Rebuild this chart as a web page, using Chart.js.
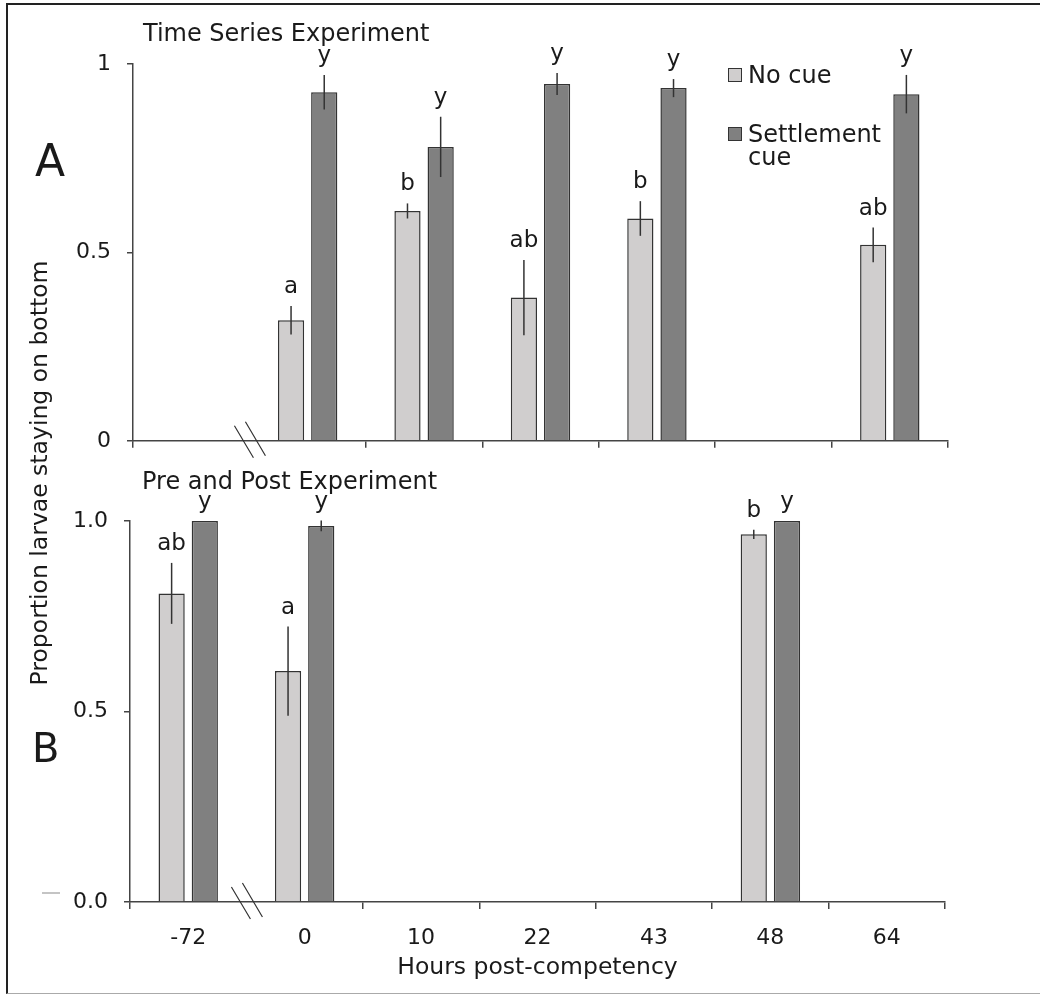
<!DOCTYPE html>
<html>
<head>
<meta charset="utf-8">
<script src="https://cdn.jsdelivr.net/npm/chart.js@4.4.0/dist/chart.umd.min.js"></script>
<style>
body { margin: 0; background: #fff; font-family: "DejaVu Sans", sans-serif; color: #1a1a1a; }
#wrap { position: relative; width: 1040px; height: 994px; overflow: hidden; }
#frame { position: absolute; left: 6px; top: 3px; width: 1034px; height: 988px;
  border-top: 2px solid #222; border-left: 2px solid #222; border-bottom: 1px solid #aaa; }
canvas { position: absolute; left: 0; }
.lbl { position: absolute; white-space: nowrap; }
.sw { position: absolute; width: 12px; height: 12px; border: 1px solid #333; }
</style>
</head>
<body>
<div id="wrap">
  <div id="frame"></div>
  <canvas id="chartA" width="1040" height="470" style="top:0"></canvas>
  <canvas id="chartB" width="1040" height="524" style="top:470px"></canvas>

  <div class="lbl" style="left:143px;top:21px;font-size:24px;line-height:24px">Time Series Experiment</div>
  <div class="lbl" style="left:142px;top:469px;font-size:24px;line-height:24px">Pre and Post Experiment</div>
  <div class="lbl" style="left:35px;top:139px;font-size:44px;line-height:44px">A</div>
  <div class="lbl" style="left:32px;top:728px;font-size:40px;line-height:40px">B</div>
  <div class="lbl" style="left:39px;top:473px;font-size:23.5px;line-height:24px;transform:translate(-50%,-50%) rotate(-90deg)">Proportion larvae staying on bottom</div>

  <div class="sw" style="left:728px;top:68px;background:#d0cece"></div>
  <div class="lbl" style="left:748px;top:63px;font-size:24px;line-height:24px">No cue</div>
  <div class="sw" style="left:728px;top:127px;background:#808080"></div>
  <div class="lbl" style="left:748px;top:122px;font-size:24px;line-height:24px">Settlement</div>
  <div class="lbl" style="left:748px;top:145px;font-size:24px;line-height:24px">cue</div>

  <div style="position:absolute;left:42px;top:892px;width:18px;height:2px;background:#c4c4c4"></div>
</div>
<script>
const categories = ['-72', '0', '10', '22', '43', '48', '64'];

// Panel A - time series experiment
const noCueA = [null, 0.32, 0.61, 0.38, 0.59, null, 0.52];
const noCueErrA = [null, 0.038, 0.02, 0.10, 0.046, null, 0.046];
const noCueLetA = ['', 'a', 'b', 'ab', 'b', '', 'ab'];
const cueA = [null, 0.925, 0.78, 0.947, 0.936, null, 0.92];
const cueErrA = [null, 0.046, 0.08, 0.029, 0.024, null, 0.051];
const cueLetA = ['', 'y', 'y', 'y', 'y', '', 'y'];

// Panel B - pre and post experiment
const noCueB = [0.81, 0.606, null, null, null, 0.965, null];
const noCueErrB = [0.08, 0.117, null, null, null, 0.012, null];
const noCueLetB = ['ab', 'a', '', '', '', 'b', ''];
const cueB = [1.0, 0.987, null, null, null, 1.0, null];
const cueErrB = [0, 0.014, null, null, null, 0, null];
const cueLetB = ['y', 'y', '', '', '', 'y', ''];

const FONT = 'DejaVu Sans';
const INK = '#1a1a1a';
const AXIS = '#444';

// error bars, significance letters and the axis break mark
const annotate = {
    id: 'annotate',
    afterDatasetsDraw(chart) {
        const ctx = chart.ctx;
        const ys = chart.scales.y;
        const xs = chart.scales.x;
        ctx.save();
        chart.data.datasets.forEach((ds, di) => {
            const meta = chart.getDatasetMeta(di);
            ds.data.forEach((v, i) => {
                if (v == null) return;
                const bx = meta.data[i].x;
                const e = ds.errors[i] || 0;
                const top = ys.getPixelForValue(v + e);
                if (e > 0) {
                    ctx.strokeStyle = '#333';
                    ctx.lineWidth = 1.5;
                    ctx.beginPath();
                    ctx.moveTo(bx, top);
                    ctx.lineTo(bx, ys.getPixelForValue(v - e));
                    ctx.stroke();
                }
                ctx.fillStyle = INK;
                ctx.font = '23px "' + FONT + '"';
                ctx.textAlign = 'center';
                ctx.textBaseline = 'alphabetic';
                ctx.fillText(ds.letters[i], bx, top - 13);
            });
        });
        const gx = (xs.getPixelForValue(0) + xs.getPixelForValue(1)) / 2;
        const gy = ys.getPixelForValue(0);
        ctx.strokeStyle = '#333';
        ctx.lineWidth = 1.2;
        ctx.beginPath();
        ctx.moveTo(gx - 15, gy - 15); ctx.lineTo(gx + 4, gy + 17);
        ctx.moveTo(gx - 4, gy - 19); ctx.lineTo(gx + 16, gy + 15);
        ctx.stroke();
        ctx.restore();
    }
};

function makeChart(id, noCue, noCueErr, noCueLet, cue, cueErr, cueLet, cfg) {
    const ctx = document.getElementById(id).getContext('2d');
    return new Chart(ctx, {
        type: 'bar',
        data: {
            labels: categories,
            datasets: [{
                label: 'No cue',
                data: noCue,
                errors: noCueErr,
                letters: noCueLet,
                backgroundColor: '#d0cece',
                borderColor: '#333',
                borderWidth: 1.5,
                categoryPercentage: 0.57,
                barPercentage: 0.79
            }, {
                label: 'Settlement cue',
                data: cue,
                errors: cueErr,
                letters: cueLet,
                backgroundColor: '#808080',
                borderColor: '#333',
                borderWidth: 1.5,
                categoryPercentage: 0.57,
                barPercentage: 0.79
            }]
        },
        options: {
            responsive: false,
            animation: false,
            devicePixelRatio: 1,
            layout: { padding: { left: 0, right: cfg.right, top: cfg.top, bottom: 0 } },
            plugins: { legend: { display: false }, title: { display: false }, tooltip: { enabled: false } },
            scales: {
                x: {
                    grid: {
                        offset: true,
                        drawOnChartArea: false,
                        tickLength: 7,
                        lineWidth: 1.5,
                        color: (c) => c.index === 1 ? 'rgba(0,0,0,0)' : AXIS
                    },
                    border: { color: AXIS, width: 1.5 },
                    ticks: {
                        display: cfg.xLabels,
                        color: INK,
                        padding: 16,
                        font: { family: FONT, size: 22 }
                    },
                    title: {
                        display: cfg.xLabels,
                        text: 'Hours post-competency',
                        color: INK,
                        padding: { top: 0, bottom: 12 },
                        font: { family: FONT, size: 23.5 }
                    },
                    afterFit: (s) => { s.height = cfg.xHeight; }
                },
                y: {
                    min: 0,
                    max: 1,
                    grid: { drawOnChartArea: false, tickLength: 6, lineWidth: 1.5, color: AXIS },
                    border: { color: AXIS, width: 1.5 },
                    ticks: {
                        stepSize: 0.5,
                        color: INK,
                        padding: 16,
                        font: { family: FONT, size: 22 },
                        callback: cfg.yFmt
                    },
                    afterFit: (s) => { s.width = cfg.left; }
                }
            }
        },
        plugins: [annotate]
    });
}

makeChart('chartA', noCueA, noCueErrA, noCueLetA, cueA, cueErrA, cueLetA, {
    left: 133, right: 92, top: 64, xHeight: 29, xLabels: false,
    yFmt: (v) => String(v)
});
makeChart('chartB', noCueB, noCueErrB, noCueLetB, cueB, cueErrB, cueLetB, {
    left: 130, right: 95, top: 51, xHeight: 92, xLabels: true,
    yFmt: (v) => v.toFixed(1)
});
</script>
</body>
</html>
